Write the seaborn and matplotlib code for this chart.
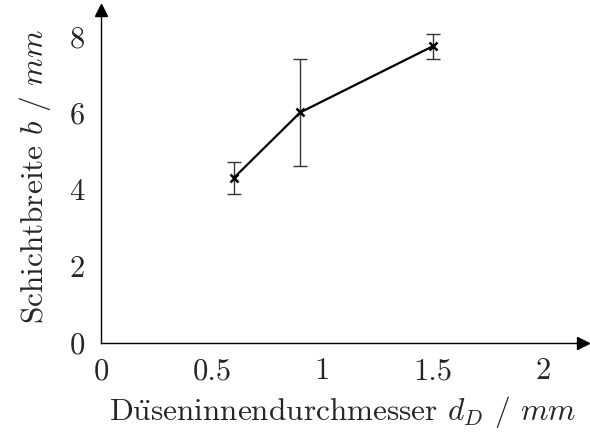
import matplotlib
matplotlib.use("Agg")
import matplotlib.pyplot as plt
import seaborn as sns
import pandas as pd

# data
diameter = [0.6, 0.9, 1.5]
width = [4.31, 6.02, 7.75]
err_low = [3.89, 4.62, 7.42]
err_high = [4.72, 7.42, 8.08]
xticks = [0, 0.5, 1, 1.5, 2]
yticks = [0, 2, 4, 6, 8]

sns.set_style("white")
plt.rcParams['font.family'] = ['cmr10', 'DejaVu Serif']
plt.rcParams['mathtext.fontset'] = 'cm'
plt.rcParams['axes.formatter.use_mathtext'] = True
plt.rcParams['axes.unicode_minus'] = False

fig = plt.figure(figsize=(5.9, 4.33), dpi=100)
ax = fig.add_axes([0.172, 0.209, 0.816, 0.768])

df = pd.DataFrame({"d": diameter, "b": width})
yerr = [[w - l for w, l in zip(width, err_low)], [h - w for w, h in zip(width, err_high)]]
ax.errorbar(diameter, width, yerr=yerr, fmt='none', ecolor='#333333', elinewidth=1.0,
            capsize=5, capthick=1.0, zorder=2)
sns.lineplot(data=df, x="d", y="b", color='black', linewidth=1.6, marker='x',
             markersize=6, markeredgewidth=1.8, markeredgecolor='black', ax=ax, zorder=3)

ax.set_xlim(0, 2.18)
ax.set_ylim(0, 8.7)
ax.set_xticks(xticks)
ax.set_xticklabels(['0', '0.5', '1', '1.5', '2'])
ax.set_yticks(yticks)
ax.set_yticklabels([str(t) for t in yticks])

for s in ['top', 'right']:
    ax.spines[s].set_visible(False)
for s in ['left', 'bottom']:
    ax.spines[s].set_color('black')
    ax.spines[s].set_linewidth(1.0)

ax.tick_params(axis='both', direction='inout', length=6, width=0.8, color='#b0b0b0',
               labelsize=22)
ax.tick_params(axis='x', pad=8)
ax.tick_params(axis='y', pad=9)
ax.plot(1, 0, marker='>', color='black', markersize=9, transform=ax.get_yaxis_transform(),
        clip_on=False)
ax.plot(0, 1, marker='^', color='black', markersize=9, transform=ax.get_xaxis_transform(),
        clip_on=False)

ax.set_xlabel(r'D$\ddot{\mathrm{u}}$seninnendurchmesser $d_D$ / $mm$', fontsize=22.5, labelpad=6)
ax.set_ylabel('Schichtbreite $b$ / $mm$', fontsize=22.5, labelpad=12)

fig.savefig('out.png', dpi=100)
